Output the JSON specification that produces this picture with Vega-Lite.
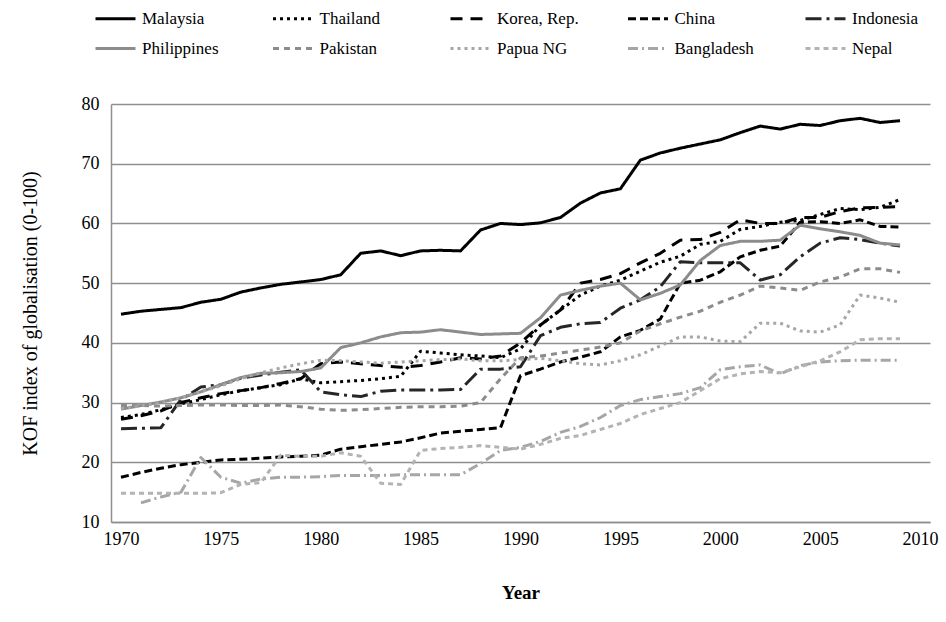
{
  "$schema": "https://vega.github.io/schema/vega-lite/v6.json",
  "autosize": {"type": "none"},
  "width": 819,
  "height": 418,
  "padding": {"left": 111, "top": 104, "right": 16, "bottom": 100},
  "background": "white",
  "config": {
    "view": {"stroke": null},
    "font": "Liberation Serif",
    "axis": {"labelFont": "Liberation Serif", "titleFont": "Liberation Serif", "labelColor": "#000", "titleColor": "#000"},
    "legend": {"labelFont": "Liberation Serif", "labelColor": "#000"}
  },
  "data": {
    "values": [
      {"country": "Malaysia", "year": 1970, "kof": 44.8}, {"country": "Malaysia", "year": 1971, "kof": 45.3}, {"country": "Malaysia", "year": 1972, "kof": 45.6}, {"country": "Malaysia", "year": 1973, "kof": 45.9}, {"country": "Malaysia", "year": 1974, "kof": 46.8}, {"country": "Malaysia", "year": 1975, "kof": 47.3}, {"country": "Malaysia", "year": 1976, "kof": 48.5}, {"country": "Malaysia", "year": 1977, "kof": 49.2}, {"country": "Malaysia", "year": 1978, "kof": 49.8}, {"country": "Malaysia", "year": 1979, "kof": 50.2},
      {"country": "Malaysia", "year": 1980, "kof": 50.6}, {"country": "Malaysia", "year": 1981, "kof": 51.4}, {"country": "Malaysia", "year": 1982, "kof": 55.0}, {"country": "Malaysia", "year": 1983, "kof": 55.4}, {"country": "Malaysia", "year": 1984, "kof": 54.6}, {"country": "Malaysia", "year": 1985, "kof": 55.4}, {"country": "Malaysia", "year": 1986, "kof": 55.5}, {"country": "Malaysia", "year": 1987, "kof": 55.4}, {"country": "Malaysia", "year": 1988, "kof": 58.9}, {"country": "Malaysia", "year": 1989, "kof": 60.0},
      {"country": "Malaysia", "year": 1990, "kof": 59.8}, {"country": "Malaysia", "year": 1991, "kof": 60.1}, {"country": "Malaysia", "year": 1992, "kof": 61.0}, {"country": "Malaysia", "year": 1993, "kof": 63.4}, {"country": "Malaysia", "year": 1994, "kof": 65.1}, {"country": "Malaysia", "year": 1995, "kof": 65.8}, {"country": "Malaysia", "year": 1996, "kof": 70.6}, {"country": "Malaysia", "year": 1997, "kof": 71.8}, {"country": "Malaysia", "year": 1998, "kof": 72.6}, {"country": "Malaysia", "year": 1999, "kof": 73.3},
      {"country": "Malaysia", "year": 2000, "kof": 74.0}, {"country": "Malaysia", "year": 2001, "kof": 75.2}, {"country": "Malaysia", "year": 2002, "kof": 76.3}, {"country": "Malaysia", "year": 2003, "kof": 75.8}, {"country": "Malaysia", "year": 2004, "kof": 76.6}, {"country": "Malaysia", "year": 2005, "kof": 76.4}, {"country": "Malaysia", "year": 2006, "kof": 77.2}, {"country": "Malaysia", "year": 2007, "kof": 77.6}, {"country": "Malaysia", "year": 2008, "kof": 76.9}, {"country": "Malaysia", "year": 2009, "kof": 77.2},

      {"country": "Thailand", "year": 1970, "kof": 27.5}, {"country": "Thailand", "year": 1971, "kof": 28.0}, {"country": "Thailand", "year": 1972, "kof": 28.8}, {"country": "Thailand", "year": 1973, "kof": 29.8}, {"country": "Thailand", "year": 1974, "kof": 30.5}, {"country": "Thailand", "year": 1975, "kof": 31.3}, {"country": "Thailand", "year": 1976, "kof": 32.0}, {"country": "Thailand", "year": 1977, "kof": 32.5}, {"country": "Thailand", "year": 1978, "kof": 33.0}, {"country": "Thailand", "year": 1979, "kof": 34.0},
      {"country": "Thailand", "year": 1980, "kof": 33.3}, {"country": "Thailand", "year": 1981, "kof": 33.5}, {"country": "Thailand", "year": 1982, "kof": 33.7}, {"country": "Thailand", "year": 1983, "kof": 34.0}, {"country": "Thailand", "year": 1984, "kof": 34.4}, {"country": "Thailand", "year": 1985, "kof": 38.6}, {"country": "Thailand", "year": 1986, "kof": 38.3}, {"country": "Thailand", "year": 1987, "kof": 38.0}, {"country": "Thailand", "year": 1988, "kof": 37.8}, {"country": "Thailand", "year": 1989, "kof": 37.5},
      {"country": "Thailand", "year": 1990, "kof": 39.0}, {"country": "Thailand", "year": 1991, "kof": 43.0}, {"country": "Thailand", "year": 1992, "kof": 45.5}, {"country": "Thailand", "year": 1993, "kof": 48.0}, {"country": "Thailand", "year": 1994, "kof": 49.5}, {"country": "Thailand", "year": 1995, "kof": 50.5}, {"country": "Thailand", "year": 1996, "kof": 52.0}, {"country": "Thailand", "year": 1997, "kof": 53.5}, {"country": "Thailand", "year": 1998, "kof": 54.5}, {"country": "Thailand", "year": 1999, "kof": 56.5},
      {"country": "Thailand", "year": 2000, "kof": 57.0}, {"country": "Thailand", "year": 2001, "kof": 59.0}, {"country": "Thailand", "year": 2002, "kof": 59.5}, {"country": "Thailand", "year": 2003, "kof": 60.2}, {"country": "Thailand", "year": 2004, "kof": 60.5}, {"country": "Thailand", "year": 2005, "kof": 61.5}, {"country": "Thailand", "year": 2006, "kof": 62.5}, {"country": "Thailand", "year": 2007, "kof": 62.3}, {"country": "Thailand", "year": 2008, "kof": 62.7}, {"country": "Thailand", "year": 2009, "kof": 64.0},

      {"country": "Korea, Rep.", "year": 1970, "kof": 27.2}, {"country": "Korea, Rep.", "year": 1971, "kof": 27.8}, {"country": "Korea, Rep.", "year": 1972, "kof": 28.6}, {"country": "Korea, Rep.", "year": 1973, "kof": 30.0}, {"country": "Korea, Rep.", "year": 1974, "kof": 30.8}, {"country": "Korea, Rep.", "year": 1975, "kof": 31.5}, {"country": "Korea, Rep.", "year": 1976, "kof": 32.0}, {"country": "Korea, Rep.", "year": 1977, "kof": 32.5}, {"country": "Korea, Rep.", "year": 1978, "kof": 33.2}, {"country": "Korea, Rep.", "year": 1979, "kof": 34.0},
      {"country": "Korea, Rep.", "year": 1980, "kof": 36.5}, {"country": "Korea, Rep.", "year": 1981, "kof": 36.8}, {"country": "Korea, Rep.", "year": 1982, "kof": 36.5}, {"country": "Korea, Rep.", "year": 1983, "kof": 36.2}, {"country": "Korea, Rep.", "year": 1984, "kof": 35.9}, {"country": "Korea, Rep.", "year": 1985, "kof": 36.2}, {"country": "Korea, Rep.", "year": 1986, "kof": 36.8}, {"country": "Korea, Rep.", "year": 1987, "kof": 37.5}, {"country": "Korea, Rep.", "year": 1988, "kof": 37.3}, {"country": "Korea, Rep.", "year": 1989, "kof": 37.8},
      {"country": "Korea, Rep.", "year": 1990, "kof": 40.0}, {"country": "Korea, Rep.", "year": 1991, "kof": 43.0}, {"country": "Korea, Rep.", "year": 1992, "kof": 45.5}, {"country": "Korea, Rep.", "year": 1993, "kof": 50.0}, {"country": "Korea, Rep.", "year": 1994, "kof": 50.6}, {"country": "Korea, Rep.", "year": 1995, "kof": 51.6}, {"country": "Korea, Rep.", "year": 1996, "kof": 53.4}, {"country": "Korea, Rep.", "year": 1997, "kof": 55.0}, {"country": "Korea, Rep.", "year": 1998, "kof": 57.2}, {"country": "Korea, Rep.", "year": 1999, "kof": 57.3},
      {"country": "Korea, Rep.", "year": 2000, "kof": 58.5}, {"country": "Korea, Rep.", "year": 2001, "kof": 60.6}, {"country": "Korea, Rep.", "year": 2002, "kof": 60.0}, {"country": "Korea, Rep.", "year": 2003, "kof": 60.0}, {"country": "Korea, Rep.", "year": 2004, "kof": 61.0}, {"country": "Korea, Rep.", "year": 2005, "kof": 61.0}, {"country": "Korea, Rep.", "year": 2006, "kof": 62.0}, {"country": "Korea, Rep.", "year": 2007, "kof": 62.6}, {"country": "Korea, Rep.", "year": 2008, "kof": 62.7}, {"country": "Korea, Rep.", "year": 2009, "kof": 62.8},

      {"country": "China", "year": 1970, "kof": 17.5}, {"country": "China", "year": 1971, "kof": 18.3}, {"country": "China", "year": 1972, "kof": 19.0}, {"country": "China", "year": 1973, "kof": 19.6}, {"country": "China", "year": 1974, "kof": 20.0}, {"country": "China", "year": 1975, "kof": 20.4}, {"country": "China", "year": 1976, "kof": 20.5}, {"country": "China", "year": 1977, "kof": 20.7}, {"country": "China", "year": 1978, "kof": 20.9}, {"country": "China", "year": 1979, "kof": 21.0},
      {"country": "China", "year": 1980, "kof": 21.2}, {"country": "China", "year": 1981, "kof": 22.2}, {"country": "China", "year": 1982, "kof": 22.6}, {"country": "China", "year": 1983, "kof": 23.0}, {"country": "China", "year": 1984, "kof": 23.4}, {"country": "China", "year": 1985, "kof": 24.1}, {"country": "China", "year": 1986, "kof": 24.9}, {"country": "China", "year": 1987, "kof": 25.2}, {"country": "China", "year": 1988, "kof": 25.5}, {"country": "China", "year": 1989, "kof": 25.8},
      {"country": "China", "year": 1990, "kof": 34.5}, {"country": "China", "year": 1991, "kof": 35.6}, {"country": "China", "year": 1992, "kof": 36.8}, {"country": "China", "year": 1993, "kof": 37.6}, {"country": "China", "year": 1994, "kof": 38.5}, {"country": "China", "year": 1995, "kof": 41.0}, {"country": "China", "year": 1996, "kof": 42.1}, {"country": "China", "year": 1997, "kof": 44.0}, {"country": "China", "year": 1998, "kof": 50.0}, {"country": "China", "year": 1999, "kof": 50.5},
      {"country": "China", "year": 2000, "kof": 51.9}, {"country": "China", "year": 2001, "kof": 54.4}, {"country": "China", "year": 2002, "kof": 55.5}, {"country": "China", "year": 2003, "kof": 56.2}, {"country": "China", "year": 2004, "kof": 60.2}, {"country": "China", "year": 2005, "kof": 60.3}, {"country": "China", "year": 2006, "kof": 60.0}, {"country": "China", "year": 2007, "kof": 60.6}, {"country": "China", "year": 2008, "kof": 59.5}, {"country": "China", "year": 2009, "kof": 59.4},

      {"country": "Indonesia", "year": 1970, "kof": 25.6}, {"country": "Indonesia", "year": 1971, "kof": 25.7}, {"country": "Indonesia", "year": 1972, "kof": 25.8}, {"country": "Indonesia", "year": 1973, "kof": 30.5}, {"country": "Indonesia", "year": 1974, "kof": 32.6}, {"country": "Indonesia", "year": 1975, "kof": 33.0}, {"country": "Indonesia", "year": 1976, "kof": 34.1}, {"country": "Indonesia", "year": 1977, "kof": 34.6}, {"country": "Indonesia", "year": 1978, "kof": 35.1}, {"country": "Indonesia", "year": 1979, "kof": 35.5},
      {"country": "Indonesia", "year": 1980, "kof": 31.8}, {"country": "Indonesia", "year": 1981, "kof": 31.3}, {"country": "Indonesia", "year": 1982, "kof": 31.0}, {"country": "Indonesia", "year": 1983, "kof": 31.9}, {"country": "Indonesia", "year": 1984, "kof": 32.1}, {"country": "Indonesia", "year": 1985, "kof": 32.1}, {"country": "Indonesia", "year": 1986, "kof": 32.1}, {"country": "Indonesia", "year": 1987, "kof": 32.2}, {"country": "Indonesia", "year": 1988, "kof": 35.6}, {"country": "Indonesia", "year": 1989, "kof": 35.6},
      {"country": "Indonesia", "year": 1990, "kof": 36.0}, {"country": "Indonesia", "year": 1991, "kof": 41.2}, {"country": "Indonesia", "year": 1992, "kof": 42.6}, {"country": "Indonesia", "year": 1993, "kof": 43.2}, {"country": "Indonesia", "year": 1994, "kof": 43.4}, {"country": "Indonesia", "year": 1995, "kof": 45.8}, {"country": "Indonesia", "year": 1996, "kof": 47.2}, {"country": "Indonesia", "year": 1997, "kof": 49.4}, {"country": "Indonesia", "year": 1998, "kof": 53.6}, {"country": "Indonesia", "year": 1999, "kof": 53.4},
      {"country": "Indonesia", "year": 2000, "kof": 53.4}, {"country": "Indonesia", "year": 2001, "kof": 53.4}, {"country": "Indonesia", "year": 2002, "kof": 50.5}, {"country": "Indonesia", "year": 2003, "kof": 51.4}, {"country": "Indonesia", "year": 2004, "kof": 54.4}, {"country": "Indonesia", "year": 2005, "kof": 56.7}, {"country": "Indonesia", "year": 2006, "kof": 57.6}, {"country": "Indonesia", "year": 2007, "kof": 57.3}, {"country": "Indonesia", "year": 2008, "kof": 56.7}, {"country": "Indonesia", "year": 2009, "kof": 56.2},

      {"country": "Philippines", "year": 1970, "kof": 28.9}, {"country": "Philippines", "year": 1971, "kof": 29.5}, {"country": "Philippines", "year": 1972, "kof": 30.1}, {"country": "Philippines", "year": 1973, "kof": 30.8}, {"country": "Philippines", "year": 1974, "kof": 31.8}, {"country": "Philippines", "year": 1975, "kof": 33.0}, {"country": "Philippines", "year": 1976, "kof": 34.2}, {"country": "Philippines", "year": 1977, "kof": 34.9}, {"country": "Philippines", "year": 1978, "kof": 35.0}, {"country": "Philippines", "year": 1979, "kof": 35.2},
      {"country": "Philippines", "year": 1980, "kof": 35.8}, {"country": "Philippines", "year": 1981, "kof": 39.2}, {"country": "Philippines", "year": 1982, "kof": 40.0}, {"country": "Philippines", "year": 1983, "kof": 41.0}, {"country": "Philippines", "year": 1984, "kof": 41.7}, {"country": "Philippines", "year": 1985, "kof": 41.8}, {"country": "Philippines", "year": 1986, "kof": 42.2}, {"country": "Philippines", "year": 1987, "kof": 41.8}, {"country": "Philippines", "year": 1988, "kof": 41.4}, {"country": "Philippines", "year": 1989, "kof": 41.5},
      {"country": "Philippines", "year": 1990, "kof": 41.6}, {"country": "Philippines", "year": 1991, "kof": 44.2}, {"country": "Philippines", "year": 1992, "kof": 48.0}, {"country": "Philippines", "year": 1993, "kof": 48.8}, {"country": "Philippines", "year": 1994, "kof": 49.5}, {"country": "Philippines", "year": 1995, "kof": 50.0}, {"country": "Philippines", "year": 1996, "kof": 47.2}, {"country": "Philippines", "year": 1997, "kof": 48.3}, {"country": "Philippines", "year": 1998, "kof": 49.7}, {"country": "Philippines", "year": 1999, "kof": 53.8},
      {"country": "Philippines", "year": 2000, "kof": 56.3}, {"country": "Philippines", "year": 2001, "kof": 57.0}, {"country": "Philippines", "year": 2002, "kof": 57.0}, {"country": "Philippines", "year": 2003, "kof": 57.2}, {"country": "Philippines", "year": 2004, "kof": 59.7}, {"country": "Philippines", "year": 2005, "kof": 59.1}, {"country": "Philippines", "year": 2006, "kof": 58.6}, {"country": "Philippines", "year": 2007, "kof": 58.0}, {"country": "Philippines", "year": 2008, "kof": 56.7}, {"country": "Philippines", "year": 2009, "kof": 56.4},

      {"country": "Pakistan", "year": 1970, "kof": 29.5}, {"country": "Pakistan", "year": 1971, "kof": 29.5}, {"country": "Pakistan", "year": 1972, "kof": 29.4}, {"country": "Pakistan", "year": 1973, "kof": 29.5}, {"country": "Pakistan", "year": 1974, "kof": 29.6}, {"country": "Pakistan", "year": 1975, "kof": 29.6}, {"country": "Pakistan", "year": 1976, "kof": 29.5}, {"country": "Pakistan", "year": 1977, "kof": 29.5}, {"country": "Pakistan", "year": 1978, "kof": 29.6}, {"country": "Pakistan", "year": 1979, "kof": 29.3},
      {"country": "Pakistan", "year": 1980, "kof": 28.9}, {"country": "Pakistan", "year": 1981, "kof": 28.7}, {"country": "Pakistan", "year": 1982, "kof": 28.8}, {"country": "Pakistan", "year": 1983, "kof": 29.0}, {"country": "Pakistan", "year": 1984, "kof": 29.2}, {"country": "Pakistan", "year": 1985, "kof": 29.3}, {"country": "Pakistan", "year": 1986, "kof": 29.3}, {"country": "Pakistan", "year": 1987, "kof": 29.4}, {"country": "Pakistan", "year": 1988, "kof": 30.0}, {"country": "Pakistan", "year": 1989, "kof": 34.0},
      {"country": "Pakistan", "year": 1990, "kof": 37.5}, {"country": "Pakistan", "year": 1991, "kof": 37.8}, {"country": "Pakistan", "year": 1992, "kof": 38.3}, {"country": "Pakistan", "year": 1993, "kof": 38.8}, {"country": "Pakistan", "year": 1994, "kof": 39.3}, {"country": "Pakistan", "year": 1995, "kof": 40.0}, {"country": "Pakistan", "year": 1996, "kof": 42.0}, {"country": "Pakistan", "year": 1997, "kof": 43.2}, {"country": "Pakistan", "year": 1998, "kof": 44.3}, {"country": "Pakistan", "year": 1999, "kof": 45.3},
      {"country": "Pakistan", "year": 2000, "kof": 46.8}, {"country": "Pakistan", "year": 2001, "kof": 48.0}, {"country": "Pakistan", "year": 2002, "kof": 49.5}, {"country": "Pakistan", "year": 2003, "kof": 49.2}, {"country": "Pakistan", "year": 2004, "kof": 48.8}, {"country": "Pakistan", "year": 2005, "kof": 50.2}, {"country": "Pakistan", "year": 2006, "kof": 51.0}, {"country": "Pakistan", "year": 2007, "kof": 52.4}, {"country": "Pakistan", "year": 2008, "kof": 52.4}, {"country": "Pakistan", "year": 2009, "kof": 51.8},

      {"country": "Papua NG", "year": 1970, "kof": 29.0}, {"country": "Papua NG", "year": 1971, "kof": 29.5}, {"country": "Papua NG", "year": 1972, "kof": 30.0}, {"country": "Papua NG", "year": 1973, "kof": 30.8}, {"country": "Papua NG", "year": 1974, "kof": 31.8}, {"country": "Papua NG", "year": 1975, "kof": 32.8}, {"country": "Papua NG", "year": 1976, "kof": 34.0}, {"country": "Papua NG", "year": 1977, "kof": 35.0}, {"country": "Papua NG", "year": 1978, "kof": 35.8}, {"country": "Papua NG", "year": 1979, "kof": 36.5},
      {"country": "Papua NG", "year": 1980, "kof": 37.1}, {"country": "Papua NG", "year": 1981, "kof": 37.0}, {"country": "Papua NG", "year": 1982, "kof": 36.8}, {"country": "Papua NG", "year": 1983, "kof": 36.6}, {"country": "Papua NG", "year": 1984, "kof": 36.8}, {"country": "Papua NG", "year": 1985, "kof": 37.0}, {"country": "Papua NG", "year": 1986, "kof": 37.2}, {"country": "Papua NG", "year": 1987, "kof": 37.3}, {"country": "Papua NG", "year": 1988, "kof": 37.0}, {"country": "Papua NG", "year": 1989, "kof": 37.0},
      {"country": "Papua NG", "year": 1990, "kof": 37.2}, {"country": "Papua NG", "year": 1991, "kof": 37.4}, {"country": "Papua NG", "year": 1992, "kof": 37.0}, {"country": "Papua NG", "year": 1993, "kof": 36.5}, {"country": "Papua NG", "year": 1994, "kof": 36.3}, {"country": "Papua NG", "year": 1995, "kof": 37.0}, {"country": "Papua NG", "year": 1996, "kof": 38.0}, {"country": "Papua NG", "year": 1997, "kof": 39.5}, {"country": "Papua NG", "year": 1998, "kof": 41.0}, {"country": "Papua NG", "year": 1999, "kof": 41.0},
      {"country": "Papua NG", "year": 2000, "kof": 40.3}, {"country": "Papua NG", "year": 2001, "kof": 40.2}, {"country": "Papua NG", "year": 2002, "kof": 43.3}, {"country": "Papua NG", "year": 2003, "kof": 43.3}, {"country": "Papua NG", "year": 2004, "kof": 42.0}, {"country": "Papua NG", "year": 2005, "kof": 41.8}, {"country": "Papua NG", "year": 2006, "kof": 43.0}, {"country": "Papua NG", "year": 2007, "kof": 48.0}, {"country": "Papua NG", "year": 2008, "kof": 47.5}, {"country": "Papua NG", "year": 2009, "kof": 46.8},

      {"country": "Bangladesh", "year": 1971, "kof": 13.2}, {"country": "Bangladesh", "year": 1972, "kof": 14.2}, {"country": "Bangladesh", "year": 1973, "kof": 15.0}, {"country": "Bangladesh", "year": 1974, "kof": 20.8}, {"country": "Bangladesh", "year": 1975, "kof": 17.5}, {"country": "Bangladesh", "year": 1976, "kof": 16.5}, {"country": "Bangladesh", "year": 1977, "kof": 17.2}, {"country": "Bangladesh", "year": 1978, "kof": 17.5}, {"country": "Bangladesh", "year": 1979, "kof": 17.5},
      {"country": "Bangladesh", "year": 1980, "kof": 17.6}, {"country": "Bangladesh", "year": 1981, "kof": 17.8}, {"country": "Bangladesh", "year": 1982, "kof": 17.8}, {"country": "Bangladesh", "year": 1983, "kof": 17.8}, {"country": "Bangladesh", "year": 1984, "kof": 17.9}, {"country": "Bangladesh", "year": 1985, "kof": 17.9}, {"country": "Bangladesh", "year": 1986, "kof": 17.9}, {"country": "Bangladesh", "year": 1987, "kof": 17.9}, {"country": "Bangladesh", "year": 1988, "kof": 19.8}, {"country": "Bangladesh", "year": 1989, "kof": 22.0},
      {"country": "Bangladesh", "year": 1990, "kof": 22.5}, {"country": "Bangladesh", "year": 1991, "kof": 23.5}, {"country": "Bangladesh", "year": 1992, "kof": 25.0}, {"country": "Bangladesh", "year": 1993, "kof": 26.0}, {"country": "Bangladesh", "year": 1994, "kof": 27.5}, {"country": "Bangladesh", "year": 1995, "kof": 29.5}, {"country": "Bangladesh", "year": 1996, "kof": 30.5}, {"country": "Bangladesh", "year": 1997, "kof": 31.0}, {"country": "Bangladesh", "year": 1998, "kof": 31.5}, {"country": "Bangladesh", "year": 1999, "kof": 32.5},
      {"country": "Bangladesh", "year": 2000, "kof": 35.5}, {"country": "Bangladesh", "year": 2001, "kof": 36.0}, {"country": "Bangladesh", "year": 2002, "kof": 36.3}, {"country": "Bangladesh", "year": 2003, "kof": 34.8}, {"country": "Bangladesh", "year": 2004, "kof": 36.2}, {"country": "Bangladesh", "year": 2005, "kof": 36.8}, {"country": "Bangladesh", "year": 2006, "kof": 37.0}, {"country": "Bangladesh", "year": 2007, "kof": 37.1}, {"country": "Bangladesh", "year": 2008, "kof": 37.1}, {"country": "Bangladesh", "year": 2009, "kof": 37.1},

      {"country": "Nepal", "year": 1970, "kof": 14.8}, {"country": "Nepal", "year": 1971, "kof": 14.8}, {"country": "Nepal", "year": 1972, "kof": 14.8}, {"country": "Nepal", "year": 1973, "kof": 14.8}, {"country": "Nepal", "year": 1974, "kof": 14.8}, {"country": "Nepal", "year": 1975, "kof": 14.9}, {"country": "Nepal", "year": 1976, "kof": 16.3}, {"country": "Nepal", "year": 1977, "kof": 16.6}, {"country": "Nepal", "year": 1978, "kof": 21.2}, {"country": "Nepal", "year": 1979, "kof": 21.0},
      {"country": "Nepal", "year": 1980, "kof": 21.0}, {"country": "Nepal", "year": 1981, "kof": 21.6}, {"country": "Nepal", "year": 1982, "kof": 21.0}, {"country": "Nepal", "year": 1983, "kof": 16.5}, {"country": "Nepal", "year": 1984, "kof": 16.3}, {"country": "Nepal", "year": 1985, "kof": 22.0}, {"country": "Nepal", "year": 1986, "kof": 22.3}, {"country": "Nepal", "year": 1987, "kof": 22.5}, {"country": "Nepal", "year": 1988, "kof": 22.8}, {"country": "Nepal", "year": 1989, "kof": 22.5},
      {"country": "Nepal", "year": 1990, "kof": 22.2}, {"country": "Nepal", "year": 1991, "kof": 23.0}, {"country": "Nepal", "year": 1992, "kof": 24.0}, {"country": "Nepal", "year": 1993, "kof": 24.5}, {"country": "Nepal", "year": 1994, "kof": 25.5}, {"country": "Nepal", "year": 1995, "kof": 26.5}, {"country": "Nepal", "year": 1996, "kof": 28.0}, {"country": "Nepal", "year": 1997, "kof": 29.0}, {"country": "Nepal", "year": 1998, "kof": 30.0}, {"country": "Nepal", "year": 1999, "kof": 32.0},
      {"country": "Nepal", "year": 2000, "kof": 34.0}, {"country": "Nepal", "year": 2001, "kof": 34.8}, {"country": "Nepal", "year": 2002, "kof": 35.2}, {"country": "Nepal", "year": 2003, "kof": 35.0}, {"country": "Nepal", "year": 2004, "kof": 36.0}, {"country": "Nepal", "year": 2005, "kof": 37.0}, {"country": "Nepal", "year": 2006, "kof": 38.5}, {"country": "Nepal", "year": 2007, "kof": 40.5}, {"country": "Nepal", "year": 2008, "kof": 40.7}, {"country": "Nepal", "year": 2009, "kof": 40.7}
    ]
  },
  "mark": {"type": "line", "interpolate": "linear", "strokeCap": "butt", "strokeJoin": "round"},
  "encoding": {
    "x": {
      "field": "year", "type": "quantitative",
      "scale": {"domain": [1969.5, 2010.5], "nice": false, "zero": false},
      "axis": {
        "values": [1970, 1975, 1980, 1985, 1990, 1995, 2000, 2005, 2010],
        "format": "d", "grid": false, "ticks": false,
        "domainColor": "#8f8f8f", "domainWidth": 1.5,
        "labelFontSize": 18, "labelPadding": 8,
        "title": "Year", "titleFontSize": 19, "titleFontWeight": "bold", "titlePadding": 35
      }
    },
    "y": {
      "field": "kof", "type": "quantitative",
      "scale": {"domain": [10, 80], "nice": false, "zero": false},
      "axis": {
        "values": [10, 20, 30, 40, 50, 60, 70, 80],
        "grid": true, "gridColor": "#8f8f8f", "gridWidth": 1.5,
        "ticks": false, "domainColor": "#8f8f8f", "domainWidth": 1.5,
        "labelFontSize": 18, "labelPadding": 12,
        "title": "KOF index of globalisation (0-100)", "titleFontSize": 20, "titleFontWeight": "normal", "titlePadding": 41
      }
    },
    "color": {
      "field": "country", "type": "nominal",
      "scale": {
        "domain": ["Malaysia", "Thailand", "Korea, Rep.", "China", "Indonesia", "Philippines", "Pakistan", "Papua NG", "Bangladesh", "Nepal"],
        "range": ["#000000", "#000000", "#000000", "#000000", "#262626", "#8c8c8c", "#8c8c8c", "#a6a6a6", "#a6a6a6", "#b3b3b3"]
      },
      "legend": {
        "title": null, "orient": "none", "legendX": -17, "legendY": -107,
        "direction": "horizontal", "columns": 5, "gridAlign": "all", "columnPadding": 42.5, "rowPadding": -17,
        "symbolType": "stroke", "symbolSize": 1600, "labelFontSize": 17, "labelOffset": 5
      }
    },
    "strokeDash": {
      "field": "country", "type": "nominal",
      "scale": {
        "domain": ["Malaysia", "Thailand", "Korea, Rep.", "China", "Indonesia", "Philippines", "Pakistan", "Papua NG", "Bangladesh", "Nepal"],
        "range": [[1, 0], [3, 4], [12, 8], [8, 4], [16, 5, 3, 5], [1, 0], [6, 5], [3, 4], [10, 4, 2, 4], [5, 4]]
      },
      "legend": null
    },
    "strokeWidth": {
      "field": "country", "type": "nominal",
      "scale": {
        "domain": ["Malaysia", "Thailand", "Korea, Rep.", "China", "Indonesia", "Philippines", "Pakistan", "Papua NG", "Bangladesh", "Nepal"],
        "range": [3, 3, 3.5, 4, 3, 3, 1.5, 3, 1.5, 1.5]
      },
      "legend": null
    }
  }
}
